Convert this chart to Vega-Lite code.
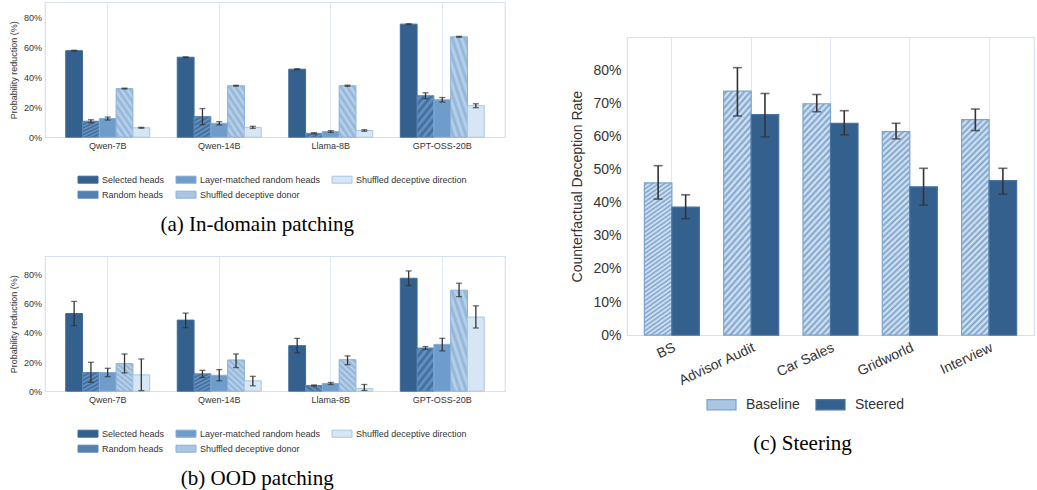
{
  "$schema": "https://vega.github.io/schema/vega-lite/v6.json",
  "background": "white",
  "padding": {"left": 8, "top": 1, "right": 0, "bottom": 0},
  "datasets": {
    "inDomain": [
      {"model": "Qwen-7B", "cond": "Selected heads", "v": 58.0, "lo": 57.7, "hi": 58.3},
      {"model": "Qwen-7B", "cond": "Random heads", "v": 10.7, "lo": 9.7, "hi": 11.7},
      {"model": "Qwen-7B", "cond": "Layer-matched random heads", "v": 12.5, "lo": 11.5, "hi": 13.5},
      {"model": "Qwen-7B", "cond": "Shuffled deceptive donor", "v": 32.6, "lo": 32.3, "hi": 32.9},
      {"model": "Qwen-7B", "cond": "Shuffled deceptive direction", "v": 6.3, "lo": 6.0, "hi": 6.6},
      {"model": "Qwen-14B", "cond": "Selected heads", "v": 53.6, "lo": 53.3, "hi": 53.9},
      {"model": "Qwen-14B", "cond": "Random heads", "v": 13.8, "lo": 8.4, "hi": 19.2},
      {"model": "Qwen-14B", "cond": "Layer-matched random heads", "v": 9.3, "lo": 8.2, "hi": 10.4},
      {"model": "Qwen-14B", "cond": "Shuffled deceptive donor", "v": 34.5, "lo": 34.2, "hi": 34.8},
      {"model": "Qwen-14B", "cond": "Shuffled deceptive direction", "v": 6.6, "lo": 5.9, "hi": 7.3},
      {"model": "Llama-8B", "cond": "Selected heads", "v": 45.6, "lo": 45.3, "hi": 45.9},
      {"model": "Llama-8B", "cond": "Random heads", "v": 2.6, "lo": 2.2, "hi": 3.0},
      {"model": "Llama-8B", "cond": "Layer-matched random heads", "v": 3.8, "lo": 3.2, "hi": 4.4},
      {"model": "Llama-8B", "cond": "Shuffled deceptive donor", "v": 34.5, "lo": 34.1, "hi": 34.9},
      {"model": "Llama-8B", "cond": "Shuffled deceptive direction", "v": 4.5, "lo": 4.0, "hi": 5.0},
      {"model": "GPT-OSS-20B", "cond": "Selected heads", "v": 75.8, "lo": 75.5, "hi": 76.1},
      {"model": "GPT-OSS-20B", "cond": "Random heads", "v": 27.8, "lo": 25.8, "hi": 29.8},
      {"model": "GPT-OSS-20B", "cond": "Layer-matched random heads", "v": 25.1, "lo": 23.6, "hi": 26.6},
      {"model": "GPT-OSS-20B", "cond": "Shuffled deceptive donor", "v": 67.3, "lo": 67.0, "hi": 67.6},
      {"model": "GPT-OSS-20B", "cond": "Shuffled deceptive direction", "v": 21.1, "lo": 19.8, "hi": 22.4}
    ],
    "ood": [
      {"model": "Qwen-7B", "cond": "Selected heads", "v": 53.2, "lo": 44.9, "hi": 61.5},
      {"model": "Qwen-7B", "cond": "Random heads", "v": 12.8, "lo": 6.1, "hi": 19.8},
      {"model": "Qwen-7B", "cond": "Layer-matched random heads", "v": 12.8, "lo": 10.0, "hi": 15.7},
      {"model": "Qwen-7B", "cond": "Shuffled deceptive donor", "v": 18.9, "lo": 12.5, "hi": 25.5},
      {"model": "Qwen-7B", "cond": "Shuffled deceptive direction", "v": 11.2, "lo": 0.4, "hi": 22.1},
      {"model": "Qwen-14B", "cond": "Selected heads", "v": 48.7, "lo": 43.5, "hi": 53.5},
      {"model": "Qwen-14B", "cond": "Random heads", "v": 11.9, "lo": 9.4, "hi": 14.3},
      {"model": "Qwen-14B", "cond": "Layer-matched random heads", "v": 10.9, "lo": 7.1, "hi": 14.8},
      {"model": "Qwen-14B", "cond": "Shuffled deceptive donor", "v": 21.4, "lo": 16.2, "hi": 25.5},
      {"model": "Qwen-14B", "cond": "Shuffled deceptive direction", "v": 7.1, "lo": 3.7, "hi": 10.2},
      {"model": "Llama-8B", "cond": "Selected heads", "v": 31.2, "lo": 26.2, "hi": 36.2},
      {"model": "Llama-8B", "cond": "Random heads", "v": 3.9, "lo": 3.5, "hi": 4.3},
      {"model": "Llama-8B", "cond": "Layer-matched random heads", "v": 5.3, "lo": 4.6, "hi": 6.0},
      {"model": "Llama-8B", "cond": "Shuffled deceptive donor", "v": 21.6, "lo": 18.2, "hi": 24.2},
      {"model": "Llama-8B", "cond": "Shuffled deceptive direction", "v": 1.8, "lo": 0.5, "hi": 4.6},
      {"model": "GPT-OSS-20B", "cond": "Selected heads", "v": 77.4, "lo": 72.4, "hi": 82.4},
      {"model": "GPT-OSS-20B", "cond": "Random heads", "v": 29.6, "lo": 28.6, "hi": 30.6},
      {"model": "GPT-OSS-20B", "cond": "Layer-matched random heads", "v": 32.1, "lo": 27.6, "hi": 36.2},
      {"model": "GPT-OSS-20B", "cond": "Shuffled deceptive donor", "v": 69.2, "lo": 64.8, "hi": 74.0},
      {"model": "GPT-OSS-20B", "cond": "Shuffled deceptive direction", "v": 50.8, "lo": 43.3, "hi": 58.5}
    ],
    "steering": [
      {"task": "BS", "method": "Baseline", "v": 46.0, "lo": 41.1, "hi": 51.2},
      {"task": "BS", "method": "Steered", "v": 38.7, "lo": 35.2, "hi": 42.4},
      {"task": "Advisor Audit", "method": "Baseline", "v": 73.7, "lo": 66.2, "hi": 80.8},
      {"task": "Advisor Audit", "method": "Steered", "v": 66.6, "lo": 59.9, "hi": 73.0},
      {"task": "Car Sales", "method": "Baseline", "v": 69.9, "lo": 67.5, "hi": 72.7},
      {"task": "Car Sales", "method": "Steered", "v": 64.0, "lo": 60.5, "hi": 67.8},
      {"task": "Gridworld", "method": "Baseline", "v": 61.5, "lo": 59.3, "hi": 64.0},
      {"task": "Gridworld", "method": "Steered", "v": 44.8, "lo": 39.3, "hi": 50.4},
      {"task": "Interview", "method": "Baseline", "v": 65.1, "lo": 61.8, "hi": 68.3},
      {"task": "Interview", "method": "Steered", "v": 46.7, "lo": 42.6, "hi": 50.4}
    ]
  },
  "hconcat": [
    {
      "vconcat": [
        {
          "width": 460,
          "height": 135,
          "data": {"name": "inDomain"},
          "title": {"text": "(a) In-domain patching", "orient": "bottom", "frame": "bounds", "fontSize": 21, "offset": 14},
          "encoding": {
            "x": {"field": "model", "type": "nominal", "sort": ["Qwen-7B", "Qwen-14B", "Llama-8B", "GPT-OSS-20B"],
                  "scale": {"paddingInner": 0.247, "paddingOuter": 0.186},
                  "axis": {"title": null, "labelFontSize": 9, "labelAngle": 0, "labelPadding": 4, "grid": true, "bandPosition": 0.5}},
            "xOffset": {"field": "cond", "type": "nominal",
                        "sort": ["Selected heads", "Random heads", "Layer-matched random heads", "Shuffled deceptive donor", "Shuffled deceptive direction"],
                        "scale": {"paddingInner": 0, "paddingOuter": 0}}
          },
          "layer": [
            {
              "mark": {"type": "bar", "strokeWidth": 1},
              "encoding": {
                "y": {"field": "v", "type": "quantitative", "title": "Probability reduction (%)",
                      "scale": {"domain": [0, 90.5], "nice": false},
                      "axis": {"titleFontSize": 9, "titlePadding": 5, "labelFontSize": 9, "labelPadding": 3.5, "values": [0, 20, 40, 60, 80], "labelExpr": "datum.value + '%'", "labelOverlap": false, "grid": false}},
                "fill": {"field": "cond", "type": "nominal",
                         "scale": {"domain": ["Selected heads", "Layer-matched random heads", "Shuffled deceptive direction", "Random heads", "Shuffled deceptive donor"],
                                   "range": ["#34608e", "#6e9dcc", "#d6e6f4", "#5380af", "#a8c5e2"]},
                         "condition": [
                           {"test": "datum.cond === 'Random heads'", "value": {"gradient": "linear", "x1": 0, "y1": 0, "x2": 0.6, "y2": 1.2, "stops": [
                             {"offset": 0, "color": "#3c6a9a"}, {"offset": 0.0714, "color": "#6a96c4"}, {"offset": 0.1429, "color": "#3c6a9a"}, {"offset": 0.2143, "color": "#6a96c4"}, {"offset": 0.2857, "color": "#3c6a9a"}, {"offset": 0.3571, "color": "#6a96c4"}, {"offset": 0.4286, "color": "#3c6a9a"}, {"offset": 0.5, "color": "#6a96c4"}, {"offset": 0.5714, "color": "#3c6a9a"}, {"offset": 0.6429, "color": "#6a96c4"}, {"offset": 0.7143, "color": "#3c6a9a"}, {"offset": 0.7857, "color": "#6a96c4"}, {"offset": 0.8571, "color": "#3c6a9a"}, {"offset": 0.9286, "color": "#6a96c4"}, {"offset": 1, "color": "#3c6a9a"}]}},
                           {"test": "datum.cond === 'Shuffled deceptive donor'", "value": {"gradient": "linear", "x1": 1, "y1": 0, "x2": 0.4, "y2": 1.2, "stops": [
                             {"offset": 0, "color": "#bcd4ea"}, {"offset": 0.0625, "color": "#8fb3d7"}, {"offset": 0.125, "color": "#bcd4ea"}, {"offset": 0.1875, "color": "#8fb3d7"}, {"offset": 0.25, "color": "#bcd4ea"}, {"offset": 0.3125, "color": "#8fb3d7"}, {"offset": 0.375, "color": "#bcd4ea"}, {"offset": 0.4375, "color": "#8fb3d7"}, {"offset": 0.5, "color": "#bcd4ea"}, {"offset": 0.5625, "color": "#8fb3d7"}, {"offset": 0.625, "color": "#bcd4ea"}, {"offset": 0.6875, "color": "#8fb3d7"}, {"offset": 0.75, "color": "#bcd4ea"}, {"offset": 0.8125, "color": "#8fb3d7"}, {"offset": 0.875, "color": "#bcd4ea"}, {"offset": 0.9375, "color": "#8fb3d7"}, {"offset": 1, "color": "#bcd4ea"}]}}
                         ],
                         "legend": {"title": null, "orient": "none", "legendX": 37.5, "legendY": 172, "columns": 3, "direction": "horizontal",
                                    "symbolType": "M-2,-0.7H2V0.7H-2Z", "symbolSize": 100, "symbolStrokeWidth": 1,
                                    "labelFontSize": 9, "labelOffset": 8.5, "columnPadding": 9, "rowPadding": 4, "gridAlign": "each", "labelLimit": 300,
                                    "encode": {"symbols": {"update": {"fill": [
                                      {"test": "datum.value === 'Random heads'", "value": {"gradient": "linear", "x1": 0, "y1": 0, "x2": 1.2, "y2": 0.42, "stops": [
                                        {"offset": 0, "color": "#3c6a9a"}, {"offset": 0.125, "color": "#6a96c4"}, {"offset": 0.25, "color": "#3c6a9a"}, {"offset": 0.375, "color": "#6a96c4"}, {"offset": 0.5, "color": "#3c6a9a"}, {"offset": 0.625, "color": "#6a96c4"}, {"offset": 0.75, "color": "#3c6a9a"}, {"offset": 0.875, "color": "#6a96c4"}, {"offset": 1, "color": "#3c6a9a"}]}},
                                      {"test": "datum.value === 'Shuffled deceptive donor'", "value": {"gradient": "linear", "x1": 1, "y1": 0, "x2": -0.2, "y2": 0.42, "stops": [
                                        {"offset": 0, "color": "#bcd4ea"}, {"offset": 0.125, "color": "#8fb3d7"}, {"offset": 0.25, "color": "#bcd4ea"}, {"offset": 0.375, "color": "#8fb3d7"}, {"offset": 0.5, "color": "#bcd4ea"}, {"offset": 0.625, "color": "#8fb3d7"}, {"offset": 0.75, "color": "#bcd4ea"}, {"offset": 0.875, "color": "#8fb3d7"}, {"offset": 1, "color": "#bcd4ea"}]}},
                                      {"test": "datum.value === 'Selected heads'", "value": "#34608e"},
                                      {"test": "datum.value === 'Layer-matched random heads'", "value": "#6e9dcc"},
                                      {"value": "#d6e6f4"}
                                    ]}}}}},
                "stroke": {"field": "cond", "type": "nominal",
                           "scale": {"domain": ["Selected heads", "Layer-matched random heads", "Shuffled deceptive direction", "Random heads", "Shuffled deceptive donor"],
                                     "range": ["#3f6b99", "#86acd4", "#a9c6e3", "#5986b5", "#8cb1d7"]}}
              }
            },
            {
              "mark": {"type": "rule", "color": "#333333", "strokeWidth": 1.3},
              "encoding": {
                "y": {"field": "lo", "type": "quantitative", "title": "Probability reduction (%)", "scale": {"domain": [0, 90.5], "nice": false},
                      "axis": {"titleFontSize": 9, "titlePadding": 5, "labelFontSize": 9, "labelPadding": 3.5, "values": [0, 20, 40, 60, 80], "labelExpr": "datum.value + '%'", "labelOverlap": false, "grid": false}},
                "y2": {"field": "hi"}
              }
            },
            {
              "mark": {"type": "tick", "color": "#333333", "thickness": 1.3, "size": 6},
              "encoding": {"y": {"field": "lo", "type": "quantitative", "title": "Probability reduction (%)", "scale": {"domain": [0, 90.5], "nice": false},
                                 "axis": {"titleFontSize": 9, "titlePadding": 5, "labelFontSize": 9, "labelPadding": 3.5, "values": [0, 20, 40, 60, 80], "labelExpr": "datum.value + '%'", "labelOverlap": false, "grid": false}}}
            },
            {
              "mark": {"type": "tick", "color": "#333333", "thickness": 1.3, "size": 6},
              "encoding": {"y": {"field": "hi", "type": "quantitative", "title": "Probability reduction (%)", "scale": {"domain": [0, 90.5], "nice": false},
                                 "axis": {"titleFontSize": 9, "titlePadding": 5, "labelFontSize": 9, "labelPadding": 3.5, "values": [0, 20, 40, 60, 80], "labelExpr": "datum.value + '%'", "labelOverlap": false, "grid": false}}}
            }
          ]
        },
        {
          "width": 460,
          "height": 135,
          "data": {"name": "ood"},
          "title": {"text": "(b) OOD patching", "orient": "bottom", "frame": "bounds", "fontSize": 21, "offset": 14},
          "encoding": {
            "x": {"field": "model", "type": "nominal", "sort": ["Qwen-7B", "Qwen-14B", "Llama-8B", "GPT-OSS-20B"],
                  "scale": {"paddingInner": 0.247, "paddingOuter": 0.186},
                  "axis": {"title": null, "labelFontSize": 9, "labelAngle": 0, "labelPadding": 4, "grid": true, "bandPosition": 0.5}},
            "xOffset": {"field": "cond", "type": "nominal",
                        "sort": ["Selected heads", "Random heads", "Layer-matched random heads", "Shuffled deceptive donor", "Shuffled deceptive direction"],
                        "scale": {"paddingInner": 0, "paddingOuter": 0}}
          },
          "layer": [
            {
              "mark": {"type": "bar", "strokeWidth": 1},
              "encoding": {
                "y": {"field": "v", "type": "quantitative", "title": "Probability reduction (%)",
                      "scale": {"domain": [0, 92.5], "nice": false},
                      "axis": {"titleFontSize": 9, "titlePadding": 5, "labelFontSize": 9, "labelPadding": 3.5, "values": [0, 20, 40, 60, 80], "labelExpr": "datum.value + '%'", "labelOverlap": false, "grid": false}},
                "fill": {"field": "cond", "type": "nominal",
                         "scale": {"domain": ["Selected heads", "Layer-matched random heads", "Shuffled deceptive direction", "Random heads", "Shuffled deceptive donor"],
                                   "range": ["#34608e", "#6e9dcc", "#d6e6f4", "#5380af", "#a8c5e2"]},
                         "condition": [
                           {"test": "datum.cond === 'Random heads'", "value": {"gradient": "linear", "x1": 0, "y1": 0, "x2": 0.6, "y2": 1.2, "stops": [
                             {"offset": 0, "color": "#3c6a9a"}, {"offset": 0.0714, "color": "#6a96c4"}, {"offset": 0.1429, "color": "#3c6a9a"}, {"offset": 0.2143, "color": "#6a96c4"}, {"offset": 0.2857, "color": "#3c6a9a"}, {"offset": 0.3571, "color": "#6a96c4"}, {"offset": 0.4286, "color": "#3c6a9a"}, {"offset": 0.5, "color": "#6a96c4"}, {"offset": 0.5714, "color": "#3c6a9a"}, {"offset": 0.6429, "color": "#6a96c4"}, {"offset": 0.7143, "color": "#3c6a9a"}, {"offset": 0.7857, "color": "#6a96c4"}, {"offset": 0.8571, "color": "#3c6a9a"}, {"offset": 0.9286, "color": "#6a96c4"}, {"offset": 1, "color": "#3c6a9a"}]}},
                           {"test": "datum.cond === 'Shuffled deceptive donor'", "value": {"gradient": "linear", "x1": 1, "y1": 0, "x2": 0.4, "y2": 1.2, "stops": [
                             {"offset": 0, "color": "#bcd4ea"}, {"offset": 0.0625, "color": "#8fb3d7"}, {"offset": 0.125, "color": "#bcd4ea"}, {"offset": 0.1875, "color": "#8fb3d7"}, {"offset": 0.25, "color": "#bcd4ea"}, {"offset": 0.3125, "color": "#8fb3d7"}, {"offset": 0.375, "color": "#bcd4ea"}, {"offset": 0.4375, "color": "#8fb3d7"}, {"offset": 0.5, "color": "#bcd4ea"}, {"offset": 0.5625, "color": "#8fb3d7"}, {"offset": 0.625, "color": "#bcd4ea"}, {"offset": 0.6875, "color": "#8fb3d7"}, {"offset": 0.75, "color": "#bcd4ea"}, {"offset": 0.8125, "color": "#8fb3d7"}, {"offset": 0.875, "color": "#bcd4ea"}, {"offset": 0.9375, "color": "#8fb3d7"}, {"offset": 1, "color": "#bcd4ea"}]}}
                         ],
                         "legend": {"title": null, "orient": "none", "legendX": 37.5, "legendY": 172, "columns": 3, "direction": "horizontal",
                                    "symbolType": "M-2,-0.7H2V0.7H-2Z", "symbolSize": 100, "symbolStrokeWidth": 1,
                                    "labelFontSize": 9, "labelOffset": 8.5, "columnPadding": 9, "rowPadding": 4, "gridAlign": "each", "labelLimit": 300,
                                    "encode": {"symbols": {"update": {"fill": [
                                      {"test": "datum.value === 'Random heads'", "value": {"gradient": "linear", "x1": 0, "y1": 0, "x2": 1.2, "y2": 0.42, "stops": [
                                        {"offset": 0, "color": "#3c6a9a"}, {"offset": 0.125, "color": "#6a96c4"}, {"offset": 0.25, "color": "#3c6a9a"}, {"offset": 0.375, "color": "#6a96c4"}, {"offset": 0.5, "color": "#3c6a9a"}, {"offset": 0.625, "color": "#6a96c4"}, {"offset": 0.75, "color": "#3c6a9a"}, {"offset": 0.875, "color": "#6a96c4"}, {"offset": 1, "color": "#3c6a9a"}]}},
                                      {"test": "datum.value === 'Shuffled deceptive donor'", "value": {"gradient": "linear", "x1": 1, "y1": 0, "x2": -0.2, "y2": 0.42, "stops": [
                                        {"offset": 0, "color": "#bcd4ea"}, {"offset": 0.125, "color": "#8fb3d7"}, {"offset": 0.25, "color": "#bcd4ea"}, {"offset": 0.375, "color": "#8fb3d7"}, {"offset": 0.5, "color": "#bcd4ea"}, {"offset": 0.625, "color": "#8fb3d7"}, {"offset": 0.75, "color": "#bcd4ea"}, {"offset": 0.875, "color": "#8fb3d7"}, {"offset": 1, "color": "#bcd4ea"}]}},
                                      {"test": "datum.value === 'Selected heads'", "value": "#34608e"},
                                      {"test": "datum.value === 'Layer-matched random heads'", "value": "#6e9dcc"},
                                      {"value": "#d6e6f4"}
                                    ]}}}}},
                "stroke": {"field": "cond", "type": "nominal",
                           "scale": {"domain": ["Selected heads", "Layer-matched random heads", "Shuffled deceptive direction", "Random heads", "Shuffled deceptive donor"],
                                     "range": ["#3f6b99", "#86acd4", "#a9c6e3", "#5986b5", "#8cb1d7"]}}
              }
            },
            {
              "mark": {"type": "rule", "color": "#333333", "strokeWidth": 1.3},
              "encoding": {
                "y": {"field": "lo", "type": "quantitative", "title": "Probability reduction (%)", "scale": {"domain": [0, 92.5], "nice": false},
                      "axis": {"titleFontSize": 9, "titlePadding": 5, "labelFontSize": 9, "labelPadding": 3.5, "values": [0, 20, 40, 60, 80], "labelExpr": "datum.value + '%'", "labelOverlap": false, "grid": false}},
                "y2": {"field": "hi"}
              }
            },
            {
              "mark": {"type": "tick", "color": "#333333", "thickness": 1.3, "size": 6},
              "encoding": {"y": {"field": "lo", "type": "quantitative", "title": "Probability reduction (%)", "scale": {"domain": [0, 92.5], "nice": false},
                                 "axis": {"titleFontSize": 9, "titlePadding": 5, "labelFontSize": 9, "labelPadding": 3.5, "values": [0, 20, 40, 60, 80], "labelExpr": "datum.value + '%'", "labelOverlap": false, "grid": false}}}
            },
            {
              "mark": {"type": "tick", "color": "#333333", "thickness": 1.3, "size": 6},
              "encoding": {"y": {"field": "hi", "type": "quantitative", "title": "Probability reduction (%)", "scale": {"domain": [0, 92.5], "nice": false},
                                 "axis": {"titleFontSize": 9, "titlePadding": 5, "labelFontSize": 9, "labelPadding": 3.5, "values": [0, 20, 40, 60, 80], "labelExpr": "datum.value + '%'", "labelOverlap": false, "grid": false}}}
            }
          ]
        }
      ],
      "spacing": 19,
      "resolve": {"scale": {"x": "independent", "y": "independent", "xOffset": "independent", "fill": "independent", "stroke": "independent"},
                  "legend": {"fill": "independent", "stroke": "independent"}}
    },
    {
      "width": 407,
      "height": 298,
      "data": {"name": "steering"},
      "title": {"text": "(c) Steering", "orient": "bottom", "frame": "bounds", "fontSize": 21, "offset": 21},
      "encoding": {
        "x": {"field": "task", "type": "nominal", "sort": ["BS", "Advisor Audit", "Car Sales", "Gridworld", "Interview"],
              "scale": {"paddingInner": 0.306, "paddingOuter": 0.219},
              "axis": {"title": null, "labelAngle": -25, "labelAlign": "right", "labelBaseline": "top", "labelFontSize": 14, "labelPadding": 5, "grid": true, "bandPosition": 0.5}},
        "xOffset": {"field": "method", "type": "nominal", "sort": ["Baseline", "Steered"], "scale": {"paddingInner": 0, "paddingOuter": 0}}
      },
      "layer": [
        {
          "mark": {"type": "bar", "strokeWidth": 1.2},
          "encoding": {
            "y": {"field": "v", "type": "quantitative", "title": "Counterfactual Deception Rate",
                  "scale": {"domain": [0, 90], "nice": false},
                  "axis": {"titleFontSize": 14, "titlePadding": 8, "labelFontSize": 14, "labelPadding": 6, "values": [0, 10, 20, 30, 40, 50, 60, 70, 80], "labelExpr": "datum.value + '%'", "labelOverlap": false, "grid": false}},
            "fill": {"field": "method", "type": "nominal",
                     "scale": {"domain": ["Baseline", "Steered"], "range": ["#abc6e1", "#34608e"]},
                     "condition": {"test": "datum.method === 'Baseline'", "value": {"gradient": "linear", "x1": 0, "y1": 0, "x2": 0.142, "y2": 1.11, "stops": [
                       {"offset": 0, "color": "#dde9f5"}, {"offset": 0.0125, "color": "#7aa2cc"}, {"offset": 0.025, "color": "#dde9f5"}, {"offset": 0.0375, "color": "#7aa2cc"}, {"offset": 0.05, "color": "#dde9f5"}, {"offset": 0.0625, "color": "#7aa2cc"}, {"offset": 0.075, "color": "#dde9f5"}, {"offset": 0.0875, "color": "#7aa2cc"}, {"offset": 0.1, "color": "#dde9f5"}, {"offset": 0.1125, "color": "#7aa2cc"}, {"offset": 0.125, "color": "#dde9f5"}, {"offset": 0.1375, "color": "#7aa2cc"}, {"offset": 0.15, "color": "#dde9f5"}, {"offset": 0.1625, "color": "#7aa2cc"}, {"offset": 0.175, "color": "#dde9f5"}, {"offset": 0.1875, "color": "#7aa2cc"}, {"offset": 0.2, "color": "#dde9f5"}, {"offset": 0.2125, "color": "#7aa2cc"}, {"offset": 0.225, "color": "#dde9f5"}, {"offset": 0.2375, "color": "#7aa2cc"}, {"offset": 0.25, "color": "#dde9f5"}, {"offset": 0.2625, "color": "#7aa2cc"}, {"offset": 0.275, "color": "#dde9f5"}, {"offset": 0.2875, "color": "#7aa2cc"}, {"offset": 0.3, "color": "#dde9f5"}, {"offset": 0.3125, "color": "#7aa2cc"}, {"offset": 0.325, "color": "#dde9f5"}, {"offset": 0.3375, "color": "#7aa2cc"}, {"offset": 0.35, "color": "#dde9f5"}, {"offset": 0.3625, "color": "#7aa2cc"}, {"offset": 0.375, "color": "#dde9f5"}, {"offset": 0.3875, "color": "#7aa2cc"}, {"offset": 0.4, "color": "#dde9f5"}, {"offset": 0.4125, "color": "#7aa2cc"}, {"offset": 0.425, "color": "#dde9f5"}, {"offset": 0.4375, "color": "#7aa2cc"}, {"offset": 0.45, "color": "#dde9f5"}, {"offset": 0.4625, "color": "#7aa2cc"}, {"offset": 0.475, "color": "#dde9f5"}, {"offset": 0.4875, "color": "#7aa2cc"}, {"offset": 0.5, "color": "#dde9f5"}, {"offset": 0.5125, "color": "#7aa2cc"}, {"offset": 0.525, "color": "#dde9f5"}, {"offset": 0.5375, "color": "#7aa2cc"}, {"offset": 0.55, "color": "#dde9f5"}, {"offset": 0.5625, "color": "#7aa2cc"}, {"offset": 0.575, "color": "#dde9f5"}, {"offset": 0.5875, "color": "#7aa2cc"}, {"offset": 0.6, "color": "#dde9f5"}, {"offset": 0.6125, "color": "#7aa2cc"}, {"offset": 0.625, "color": "#dde9f5"}, {"offset": 0.6375, "color": "#7aa2cc"}, {"offset": 0.65, "color": "#dde9f5"}, {"offset": 0.6625, "color": "#7aa2cc"}, {"offset": 0.675, "color": "#dde9f5"}, {"offset": 0.6875, "color": "#7aa2cc"}, {"offset": 0.7, "color": "#dde9f5"}, {"offset": 0.7125, "color": "#7aa2cc"}, {"offset": 0.725, "color": "#dde9f5"}, {"offset": 0.7375, "color": "#7aa2cc"}, {"offset": 0.75, "color": "#dde9f5"}, {"offset": 0.7625, "color": "#7aa2cc"}, {"offset": 0.775, "color": "#dde9f5"}, {"offset": 0.7875, "color": "#7aa2cc"}, {"offset": 0.8, "color": "#dde9f5"}, {"offset": 0.8125, "color": "#7aa2cc"}, {"offset": 0.825, "color": "#dde9f5"}, {"offset": 0.8375, "color": "#7aa2cc"}, {"offset": 0.85, "color": "#dde9f5"}, {"offset": 0.8625, "color": "#7aa2cc"}, {"offset": 0.875, "color": "#dde9f5"}, {"offset": 0.8875, "color": "#7aa2cc"}, {"offset": 0.9, "color": "#dde9f5"}, {"offset": 0.9125, "color": "#7aa2cc"}, {"offset": 0.925, "color": "#dde9f5"}, {"offset": 0.9375, "color": "#7aa2cc"}, {"offset": 0.95, "color": "#dde9f5"}, {"offset": 0.9625, "color": "#7aa2cc"}, {"offset": 0.975, "color": "#dde9f5"}, {"offset": 0.9875, "color": "#7aa2cc"}, {"offset": 1, "color": "#dde9f5"}]}},
                     "legend": {"title": null, "orient": "none", "legendX": 79, "legendY": 352, "columns": 2, "direction": "horizontal",
                                "symbolType": "M-1,-0.35H1V0.35H-1Z", "symbolSize": 841, "symbolStrokeWidth": 1.2,
                                "labelFontSize": 14, "labelOffset": 9, "columnPadding": 13, "labelLimit": 300,
                                "encode": {"symbols": {"update": {"fill": [
                                  {"test": "datum.value === 'Baseline'", "value": {"gradient": "linear", "x1": 0, "y1": 0, "x2": 1.2, "y2": 0.414, "stops": [
                                    {"offset": 0, "color": "#dde9f5"}, {"offset": 0.0714, "color": "#7aa2cc"}, {"offset": 0.1429, "color": "#dde9f5"}, {"offset": 0.2143, "color": "#7aa2cc"}, {"offset": 0.2857, "color": "#dde9f5"}, {"offset": 0.3571, "color": "#7aa2cc"}, {"offset": 0.4286, "color": "#dde9f5"}, {"offset": 0.5, "color": "#7aa2cc"}, {"offset": 0.5714, "color": "#dde9f5"}, {"offset": 0.6429, "color": "#7aa2cc"}, {"offset": 0.7143, "color": "#dde9f5"}, {"offset": 0.7857, "color": "#7aa2cc"}, {"offset": 0.8571, "color": "#dde9f5"}, {"offset": 0.9286, "color": "#7aa2cc"}, {"offset": 1, "color": "#dde9f5"}]}},
                                  {"value": "#34608e"}
                                ]}}}}},
            "stroke": {"field": "method", "type": "nominal",
                       "scale": {"domain": ["Baseline", "Steered"], "range": ["#7ba4cf", "#4673a3"]}}
          }
        },
        {
          "mark": {"type": "rule", "color": "#333333", "strokeWidth": 1.6},
          "encoding": {
            "y": {"field": "lo", "type": "quantitative", "title": "Counterfactual Deception Rate", "scale": {"domain": [0, 90], "nice": false},
                  "axis": {"titleFontSize": 14, "titlePadding": 8, "labelFontSize": 14, "labelPadding": 6, "values": [0, 10, 20, 30, 40, 50, 60, 70, 80], "labelExpr": "datum.value + '%'", "labelOverlap": false, "grid": false}},
            "y2": {"field": "hi"}
          }
        },
        {
          "mark": {"type": "tick", "color": "#333333", "thickness": 1.6, "size": 9},
          "encoding": {"y": {"field": "lo", "type": "quantitative", "title": "Counterfactual Deception Rate", "scale": {"domain": [0, 90], "nice": false},
                             "axis": {"titleFontSize": 14, "titlePadding": 8, "labelFontSize": 14, "labelPadding": 6, "values": [0, 10, 20, 30, 40, 50, 60, 70, 80], "labelExpr": "datum.value + '%'", "labelOverlap": false, "grid": false}}}
        },
        {
          "mark": {"type": "tick", "color": "#333333", "thickness": 1.6, "size": 9},
          "encoding": {"y": {"field": "hi", "type": "quantitative", "title": "Counterfactual Deception Rate", "scale": {"domain": [0, 90], "nice": false},
                             "axis": {"titleFontSize": 14, "titlePadding": 8, "labelFontSize": 14, "labelPadding": 6, "values": [0, 10, 20, 30, 40, 50, 60, 70, 80], "labelExpr": "datum.value + '%'", "labelOverlap": false, "grid": false}}}
        }
      ]
    }
  ],
  "spacing": 64,
  "center": true,
  "resolve": {"scale": {"x": "independent", "y": "independent", "xOffset": "independent", "fill": "independent", "stroke": "independent"},
              "legend": {"fill": "independent", "stroke": "independent"}},
  "config": {
    "font": "Liberation Sans",
    "view": {"stroke": "#d3e1f0", "strokeWidth": 1.2},
    "axis": {"domain": false, "ticks": false, "labelColor": "#333333", "titleColor": "#333333", "titleFontWeight": "normal", "gridColor": "#dde8f4", "gridWidth": 1},
    "legend": {"labelColor": "#333333"},
    "title": {"font": "Liberation Serif", "fontWeight": "normal", "color": "#000000"}
  }
}
